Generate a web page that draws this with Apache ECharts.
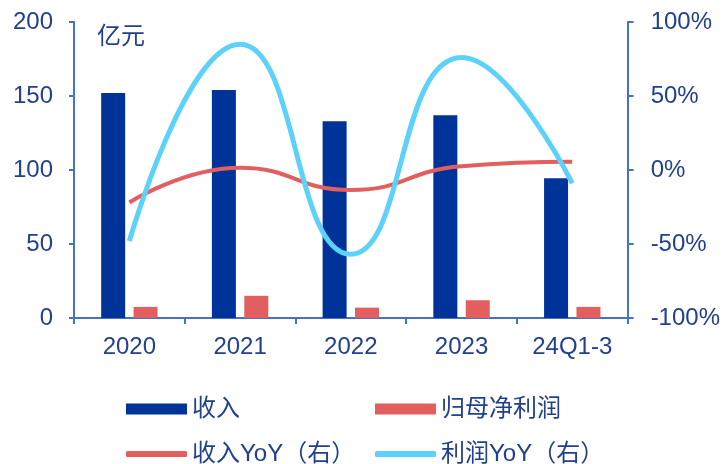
<!DOCTYPE html>
<html><head><meta charset="utf-8">
<script src="https://cdn.jsdelivr.net/npm/echarts@6/dist/echarts.min.js"></script>
<style>html,body{margin:0;padding:0;background:#fff}#c{width:723px;height:464px}</style>
</head><body><div id="c"></div>
<script>
const categories = ['2020','2021','2022','2023','24Q1-3'];
const revenue = [152, 154, 133, 137, 94.5];
const netProfit = [7.5, 15, 7, 12, 7.5];
const revenueYoY = [-22, 1.5, -13.5, 2.5, 5.5];
const profitYoY = [-48, 85, -57, 76, -9];
const leftTicks = [0, 50, 100, 150, 200];
const rightTicks = [-100, -50, 0, 50, 100];

const axisColor = '#4472C4';
const labelColor = '#22408F';
const font = 'Liberation Sans, Arial, "Noto Sans CJK SC", sans-serif';
const chart = echarts.init(document.getElementById('c'));
const legendText = {fontSize: 24, color: '#22408F', fontFamily: font};
chart.setOption({
  animation: false,
  grid: {left: 74, right: 94, top: 22, bottom: 146},
  legend: [
    {data: ['收入'], left: 121, top: 392, itemWidth: 61, itemHeight: 11, icon: 'rect', textStyle: legendText, itemGap: 6},
    {data: ['归母净利润'], left: 370, top: 392, itemWidth: 61, itemHeight: 11, icon: 'rect', textStyle: legendText},
    {data: ['收入YoY（右）'], left: 121, top: 437, itemWidth: 61, itemHeight: 6, icon: 'roundRect', textStyle: legendText},
    {data: ['利润YoY（右）'], left: 370, top: 437, itemWidth: 61, itemHeight: 6, icon: 'roundRect', textStyle: legendText}
  ],
  graphic: [{type: 'text', left: 97, top: 25, style: {text: '亿元', fontSize: 24, fill: labelColor, fontFamily: font}}],
  xAxis: {
    type: 'category', data: categories,
    axisLine: {lineStyle: {color: axisColor, width: 2}},
    axisTick: {show: true, length: 6, lineStyle: {color: axisColor, width: 2}},
    axisLabel: {fontSize: 24, color: labelColor, margin: 17, fontFamily: font}
  },
  yAxis: [
    {type: 'value', min: 0, max: 200, interval: 50,
     axisLine: {show: true, lineStyle: {color: axisColor, width: 2}},
     axisTick: {show: true, length: 5, lineStyle: {color: axisColor, width: 2}},
     splitLine: {show: false},
     axisLabel: {fontSize: 24, color: labelColor, margin: 21, fontFamily: font}},
    {type: 'value', min: -100, max: 100, interval: 50, position: 'right',
     axisLine: {show: true, lineStyle: {color: axisColor, width: 2}},
     axisTick: {show: true, length: 6, lineStyle: {color: axisColor, width: 2}},
     splitLine: {show: false},
     axisLabel: {fontSize: 24, color: labelColor, margin: 23, fontFamily: font, formatter: '{value}%'}}
  ],
  series: [
    {name: '收入', type: 'bar', data: revenue, barWidth: 24, barGap: '35%', itemStyle: {color: '#003399'}},
    {name: '归母净利润', type: 'bar', data: netProfit, barWidth: 24, itemStyle: {color: '#E35F5F'}},
    {name: '收入YoY（右）', type: 'line', yAxisIndex: 1, data: revenueYoY, smooth: 0.5, showSymbol: false, lineStyle: {color: '#E35F5F', width: 4}, itemStyle: {color: '#E35F5F'}},
    {name: '利润YoY（右）', type: 'line', yAxisIndex: 1, data: profitYoY, smooth: 0.5, showSymbol: false, lineStyle: {color: '#5CD2FA', width: 5}, itemStyle: {color: '#5CD2FA'}}
  ]
});
</script></body></html>
